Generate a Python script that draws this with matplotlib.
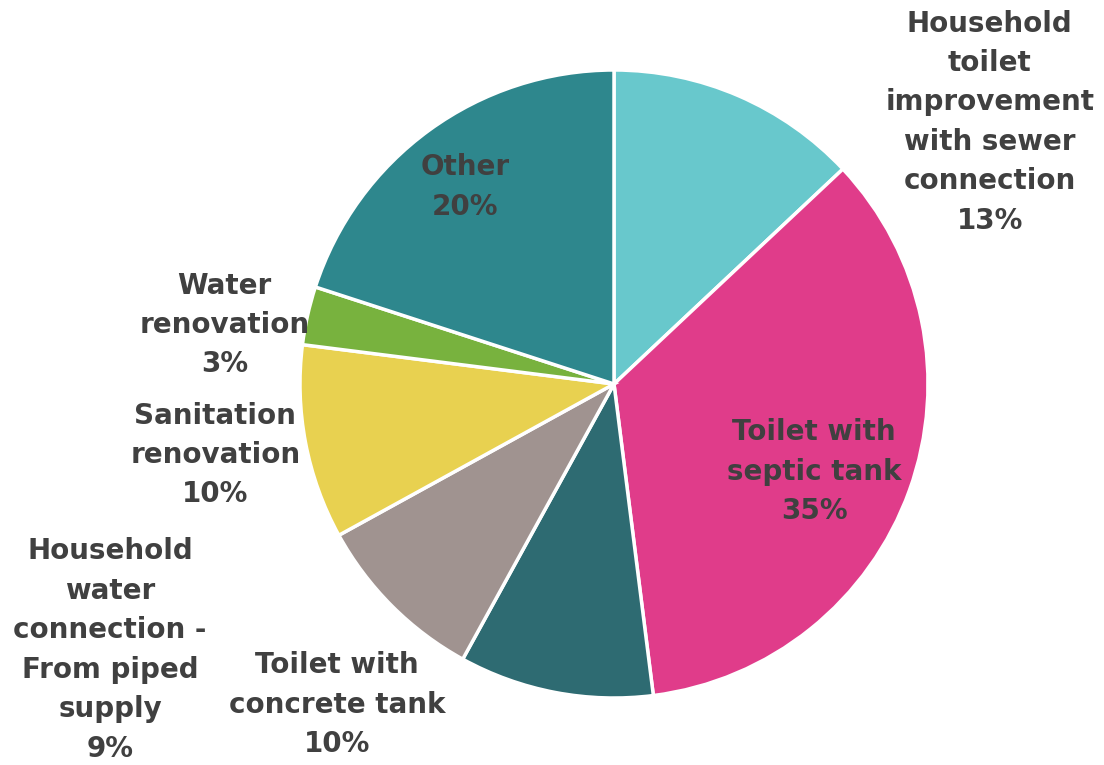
import matplotlib.pyplot as plt

labels = ['Household\ntoilet\nimprovement\nwith sewer\nconnection',
          'Toilet with\nseptic tank',
          'Toilet with\nconcrete tank',
          'Household\nwater\nconnection -\nFrom piped\nsupply',
          'Sanitation\nrenovation',
          'Water\nrenovation',
          'Other']
shares = [13, 35, 10, 9, 10, 3, 20]
colors = ['#68C8CC', '#E03C8A', '#2E6B72', '#A09390', '#E8D150', '#78B23E', '#2E878D']

# label centres in pie units (radius = 1)
label_xy = [(1.197, 0.834), (0.637, -0.280), (-0.882, -1.022), (-1.605, -0.847),
            (-1.27, -0.226), (-1.24, 0.188), (-0.475, 0.628)]

fig = plt.figure(figsize=(11.04, 7.65), dpi=100)
ax = fig.add_axes([300 / 1104, 67 / 765, 628 / 1104, 628 / 765])

ax.pie(shares, colors=colors, startangle=90, counterclock=False, radius=1,
       wedgeprops=dict(edgecolor='white', linewidth=2.5))
ax.set_xlim(-1, 1)
ax.set_ylim(-1, 1)
ax.set_aspect('equal')
ax.axis('off')

for lab, val, (x, y) in zip(labels, shares, label_xy):
    ax.text(x, y, f'{lab}\n{val}%', ha='center', va='center', fontsize=20,
            fontweight='bold', color='#404040', family='DejaVu Sans',
            linespacing=1.52, clip_on=False)

fig.savefig('out.png', dpi=100)
